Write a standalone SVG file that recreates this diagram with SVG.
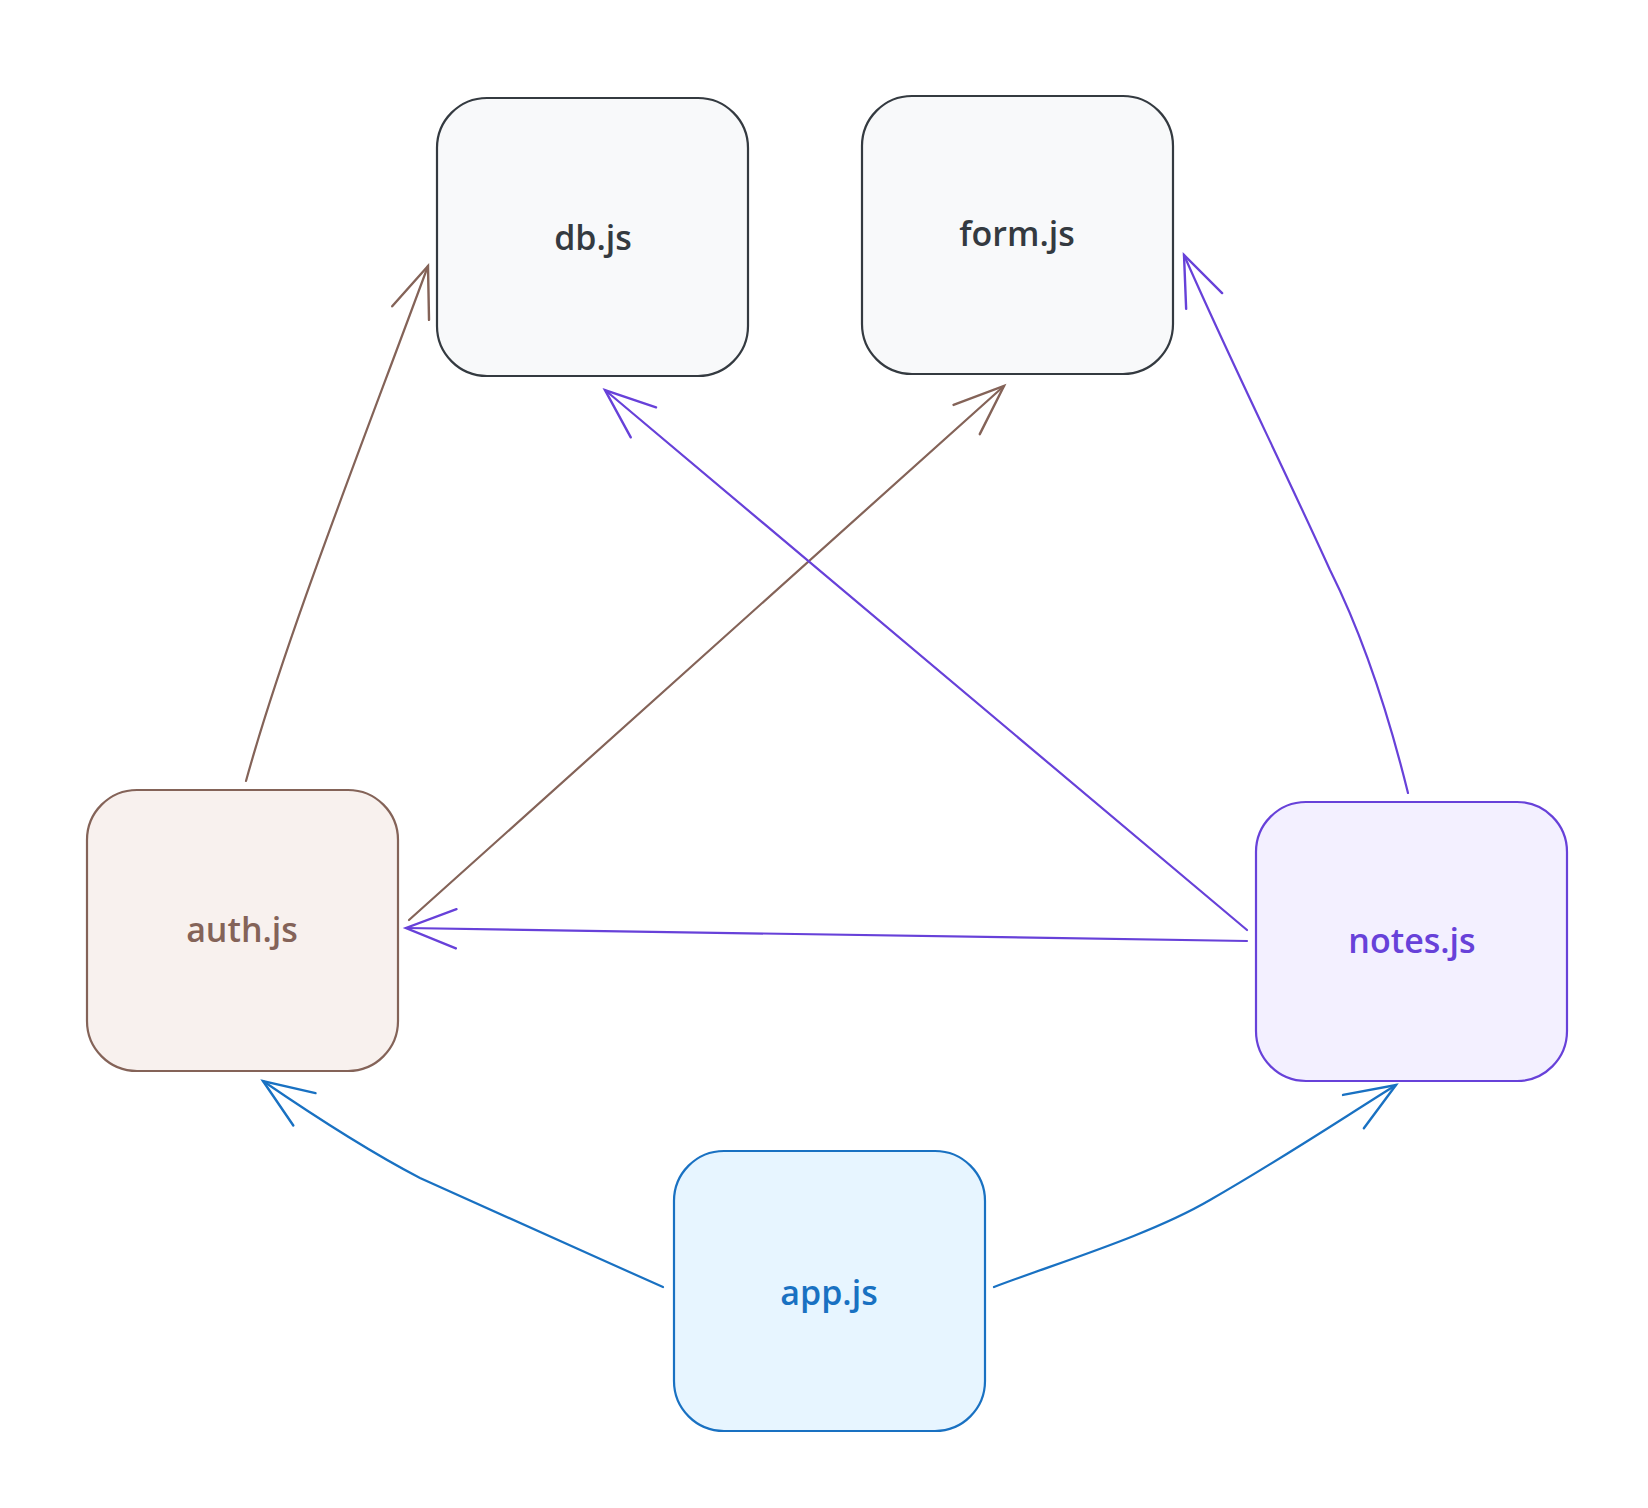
<svg xmlns="http://www.w3.org/2000/svg" width="1648" height="1508" viewBox="0 0 1648 1508">
<style>
.box{stroke-width:2.2}
.lbl{font-family:"Open Sans","Liberation Sans",sans-serif;font-size:34px;font-weight:600;text-anchor:middle;dominant-baseline:central}
.c{fill:none;stroke-width:2.2;stroke-linecap:round}
</style>
<defs>
<marker id="mb" markerUnits="userSpaceOnUse" markerWidth="60" markerHeight="60" viewBox="-50 -25 55 50" refX="0" refY="0" orient="auto"><path d="M-46,-18 L0,0 L-46,18" fill="none" stroke="#846358" stroke-width="2.2" stroke-linecap="round"/></marker>
<marker id="mp" markerUnits="userSpaceOnUse" markerWidth="60" markerHeight="60" viewBox="-50 -25 55 50" refX="0" refY="0" orient="auto"><path d="M-46,-18 L0,0 L-46,18" fill="none" stroke="#6741d9" stroke-width="2.2" stroke-linecap="round"/></marker>
<marker id="ml" markerUnits="userSpaceOnUse" markerWidth="60" markerHeight="60" viewBox="-50 -25 55 50" refX="0" refY="0" orient="auto"><path d="M-46,-18 L0,0 L-46,18" fill="none" stroke="#1971c2" stroke-width="2.2" stroke-linecap="round"/></marker>
</defs>
<rect width="1648" height="1508" fill="#ffffff"/>
<g id="connectors">
<path class="c" stroke="#846358" d="M246,781 C285,640 360,450 428,266" marker-end="url(#mb)"/>
<path class="c" stroke="#846358" d="M409,920 L1004,386" marker-end="url(#mb)"/>
<path class="c" stroke="#6741d9" d="M1247,930 L605,390" marker-end="url(#mp)"/>
<path class="c" stroke="#6741d9" d="M1247,941 L406,928" marker-end="url(#mp)"/>
<path class="c" stroke="#6741d9" d="M1408,793 C1385,700 1360,630 1330,570 C1280,460 1230,360 1184,255" marker-end="url(#mp)"/>
<path class="c" stroke="#1971c2" d="M663,1287 C580,1250 490,1210 420,1178 C370,1152 320,1120 263,1081" marker-end="url(#ml)"/>
<path class="c" stroke="#1971c2" d="M994,1287 C1060,1262 1150,1235 1210,1200 C1280,1160 1340,1120 1396,1085" marker-end="url(#ml)"/>
</g>
<g id="db"><rect class="box" x="437" y="98" width="311" height="278" rx="50" fill="#f8f9fa" stroke="#343a40"/><text class="lbl" x="593" y="237" fill="#343a40">db.js</text></g>
<g id="form"><rect class="box" x="862" y="96" width="311" height="278" rx="50" fill="#f8f9fa" stroke="#343a40"/><text class="lbl" x="1017" y="233" fill="#343a40">form.js</text></g>
<g id="auth"><rect class="box" x="87" y="790" width="311" height="281" rx="50" fill="#f8f1ee" stroke="#846358"/><text class="lbl" x="242" y="929" fill="#846358">auth.js</text></g>
<g id="notes"><rect class="box" x="1256" y="802" width="311" height="279" rx="50" fill="#f3f0ff" stroke="#6741d9"/><text class="lbl" x="1412" y="940" fill="#6741d9">notes.js</text></g>
<g id="app"><rect class="box" x="674" y="1151" width="311" height="280" rx="50" fill="#e7f5ff" stroke="#1971c2"/><text class="lbl" x="829" y="1292" fill="#1971c2">app.js</text></g>
</svg>
